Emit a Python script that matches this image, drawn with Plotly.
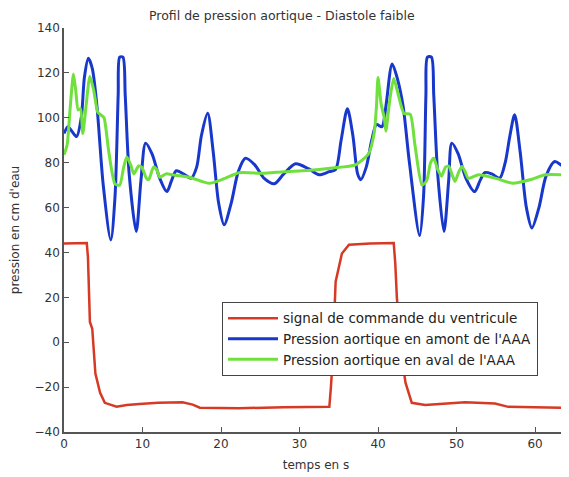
import plotly.graph_objects as go

# temps (s) / pression (cm d'eau)
t_red = [0.0, 2.9, 3.05, 3.2, 3.3, 3.6, 3.8, 4.0, 4.6, 5.2, 6.7, 8.0, 9.6, 12.0,
         15.1, 16.4, 17.3, 22.3, 28.0, 33.8, 34.0, 34.2, 34.6, 35.4, 36.3, 39.0,
         42.0, 42.2, 42.4, 42.9, 43.5, 44.3, 46.0, 51.1, 54.9, 56.6, 64.2]
p_red = [44, 44.2, 38, 25, 9, 6, -5, -14, -22.5, -27, -28.7, -28, -27.5, -27,
         -26.8, -27.8, -29.2, -29.4, -29, -28.8, -20, -9, 27, 39.5, 43.4, 44,
         44.2, 35, 20, -3, -18, -27, -28, -26.8, -27.3, -28.8, -29.2]

t_blue = [0.0, 0.5, 1.0, 1.6, 2.2, 2.6, 3.1, 3.6, 4.2, 5.0, 5.96, 6.5, 6.9, 7.1,
          7.5, 7.8, 8.3, 9.2, 9.8, 10.4, 11.2, 12.2, 13.1, 13.7, 14.3, 15.2,
          16.2, 16.9, 17.5, 18.3, 19.0, 19.7, 20.4, 21.3, 22.2, 23.1, 24.3,
          25.5, 26.8, 28.0, 29.5, 31.2, 32.5, 33.8, 34.6, 35.3, 36.1, 36.8,
          37.4, 37.8, 38.5, 39.2, 39.8, 40.5, 41.0, 41.8, 42.5, 43.2, 44.0,
          45.3, 45.8, 46.1, 46.3, 46.8, 47.1, 47.6, 48.4, 49.0, 49.4, 50.2,
          51.2, 52.3, 53.0, 53.6, 54.5, 55.5, 56.2, 56.8, 57.4, 58.1, 58.9,
          59.6, 60.5, 61.4, 62.5, 63.3, 64.2]
p_blue = [93, 96, 94, 91.6, 100, 118, 126.5, 122, 105, 70, 45.6, 65, 110, 127,
          127, 110, 75, 49.3, 72, 88.7, 84, 73, 67.1, 72, 76.4, 75,
          73.1, 78, 92, 102, 85, 62, 52.3, 62, 76, 82, 79,
          73, 70.6, 75, 79.5, 77.2, 74.6, 76, 77, 90, 104, 92,
          75, 72.4, 78, 90, 97, 96, 105, 124, 117, 105, 80,
          47.5, 65, 110, 127, 127, 110, 75, 49.3, 72, 88.7, 84,
          73, 67.1, 72, 75.6, 75, 73.1, 80, 92, 101.3, 85, 60,
          50.9, 60, 74, 80.5, 79, 76.5]

t_green = [0.0, 0.4, 0.8, 1.2, 1.5, 1.8, 2.1, 2.4, 2.8, 3.3, 3.8, 4.3, 4.8, 5.1,
           5.7, 6.5, 7.1, 7.6, 8.0, 8.5, 8.9, 9.5, 9.9, 10.5, 10.8, 11.4, 11.8,
           12.2, 13.0, 14.0, 16.0, 18.5, 20.5, 22.3, 25.3, 28.0, 31.0, 34.2,
           37.1, 38.8, 39.5, 39.8, 40.0, 40.4, 40.8, 41.0, 41.5, 42.0, 42.6,
           43.3, 44.1, 44.7, 45.6, 46.2, 46.7, 47.1, 47.6, 48.1, 48.6, 49.0,
           49.5, 49.8, 50.3, 50.7, 51.1, 51.5, 52.8, 55.0, 57.2, 59.5, 61.3, 64.2]
p_green = [83.5, 88, 105, 119.5, 112, 103.5, 104, 93, 105, 118.5, 112, 102.5, 101, 100,
           85, 70.5, 70, 78, 82.5, 79, 75, 78.5, 78, 73, 72.5, 78, 77,
           73.5, 75, 74.5, 73.5, 70.8, 73, 75.5, 75.3, 76, 76.5, 77.6,
           79, 84, 93, 105, 118, 106, 100, 94, 108, 117.5, 110,
           102, 101.5, 88, 70, 72, 80, 82, 77, 74, 78, 78.5,
           74, 71.6, 76, 78.3, 76, 73, 74.6, 73, 70.8, 72.5, 74.6, 74.5]

names = ["signal de commande du ventricule",
         "Pression aortique en amont de l'AAA",
         "Pression aortique en aval de l'AAA"]

fig = go.Figure()
fig.add_trace(go.Scatter(x=t_red, y=p_red, mode="lines", name=names[0],
                         line=dict(color="#d63a24", width=2.5)))
fig.add_trace(go.Scatter(x=t_blue, y=p_blue, mode="lines", name=names[1],
                         line=dict(color="#1838cc", width=3, shape="spline", smoothing=0.8)))
fig.add_trace(go.Scatter(x=t_green, y=p_green, mode="lines", name=names[2],
                         line=dict(color="#6fe03c", width=3, shape="spline", smoothing=0.6)))

axis_style = dict(showgrid=False, zeroline=False, showline=True, linecolor="#555555",
                  linewidth=1.5, ticks="inside", ticklen=5, tickcolor="#555555",
                  tickfont=dict(size=12, color="#333333"), automargin=False)

# the page body adds an 8px margin, so the figure is 8px smaller than the window
fig.update_layout(
    width=561, height=469,
    margin=dict(l=56, r=1, t=20, b=45),
    paper_bgcolor="white", plot_bgcolor="white",
    font=dict(family="DejaVu Sans", color="#333333"),
    xaxis=dict(range=[0, 64.2], dtick=10, title=dict(text="temps en s", standoff=10,
               font=dict(size=12)), **axis_style),
    yaxis=dict(range=[-40, 140], dtick=20, title=dict(text="pression en cm d'eau", standoff=12,
               font=dict(size=12)), **axis_style),
    legend=dict(x=0.3135, y=0.322, xanchor="left", yanchor="top",
                bgcolor="white", bordercolor="#444444", borderwidth=1,
                font=dict(size=13.5, color="#222222"), itemwidth=50,
                tracegroupgap=0),
    showlegend=True,
)

# title placed as an annotation just above the axes
fig.add_annotation(text="Profil de pression aortique - Diastole faible",
                   xref="paper", yref="paper", x=(274 - 56) / 504, y=1 + 12 / 404,
                   xanchor="center", yanchor="middle", showarrow=False,
                   font=dict(size=12.5, color="#333333"))

fig.write_html("out.html")
